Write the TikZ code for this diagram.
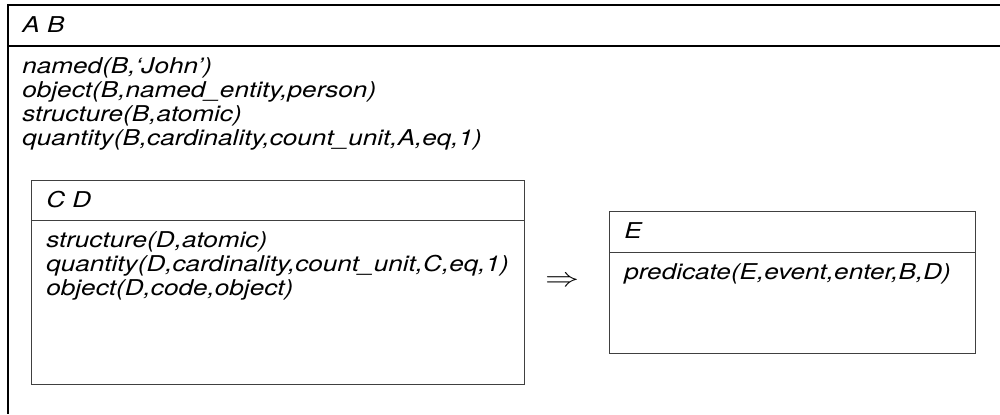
\documentclass[tikz,border=0pt]{standalone}
\usepackage{fontspec}
\setmainfont{TeX Gyre Heros}

\begin{document}
\begin{tikzpicture}[
  font=\fontsize{15.5}{17}\selectfont\itshape,
  outerline/.style={
    draw=black,
    line width=0.8pt
  },
  drsbox/.style={
    draw=black!75,
    line width=0.6pt,
    inner sep=0pt,
    anchor=north west
  },
  drsline/.style={
    draw=black!75,
    line width=0.6pt
  },
  cond/.style={
    anchor=base west,
    inner sep=0pt,
    xscale=1.2,
    transform shape
  }
]
\useasboundingbox (0,0) rectangle (25,-10.35);

% Outer box (right and bottom edges are cut off)
\coordinate (outright) at (25,-0.125);
\coordinate (outcorner) at (0.2,-0.125);
\coordinate (outbottom) at (0.2,-10.35);
\coordinate (outsep) at (0.2,-1.15);
\draw[outerline] (outright) -- (outcorner) -- (outbottom);
\draw[outerline] (outsep) -- (outsep -| outright);

\node[cond] (refab) at (0.55,-0.8) {A B};

\node[cond] (named) at (0.55,-1.83) {named(B,`John')};
\node[cond] (objb) at (0.55,-2.43) {object(B,named\_entity,person)};
\node[cond] (strb) at (0.55,-3.03) {structure(B,atomic)};
\node[cond] (quantb) at (0.55,-3.63) {quantity(B,cardinality,count\_unit,A,eq,1)};

% Inner box C D
\node[drsbox, minimum width=12.325cm, minimum height=5.1cm] (cdbox) at (0.775,-4.5) {};
\draw[drsline] ([yshift=-1cm]cdbox.north west) -- ([yshift=-1cm]cdbox.north east);

\node[cond] (refcd) at (1.15,-5.18) {C D};

\node[cond] (strd) at (1.15,-6.18) {structure(D,atomic)};
\node[cond] (quantd) at (1.15,-6.78) {quantity(D,cardinality,count\_unit,C,eq,1)};
\node[cond] (objd) at (1.15,-7.38) {object(D,code,object)};

% Implication
\node[anchor=base, inner sep=0pt, font=\LARGE, xscale=1.4, yscale=1.1, transform shape] (implies) at (14.05,-7.17) {$\Rightarrow$};

% Box E
\node[drsbox, minimum width=9.15cm, minimum height=3.55cm] (ebox) at (15.225,-5.275) {};
\draw[drsline] ([yshift=-1.025cm]ebox.north west) -- ([yshift=-1.025cm]ebox.north east);

\node[cond] (refe) at (15.6,-5.96) {E};

\node[cond] (prede) at (15.6,-6.98) {predicate(E,event,enter,B,D)};

\end{tikzpicture}
\end{document}
